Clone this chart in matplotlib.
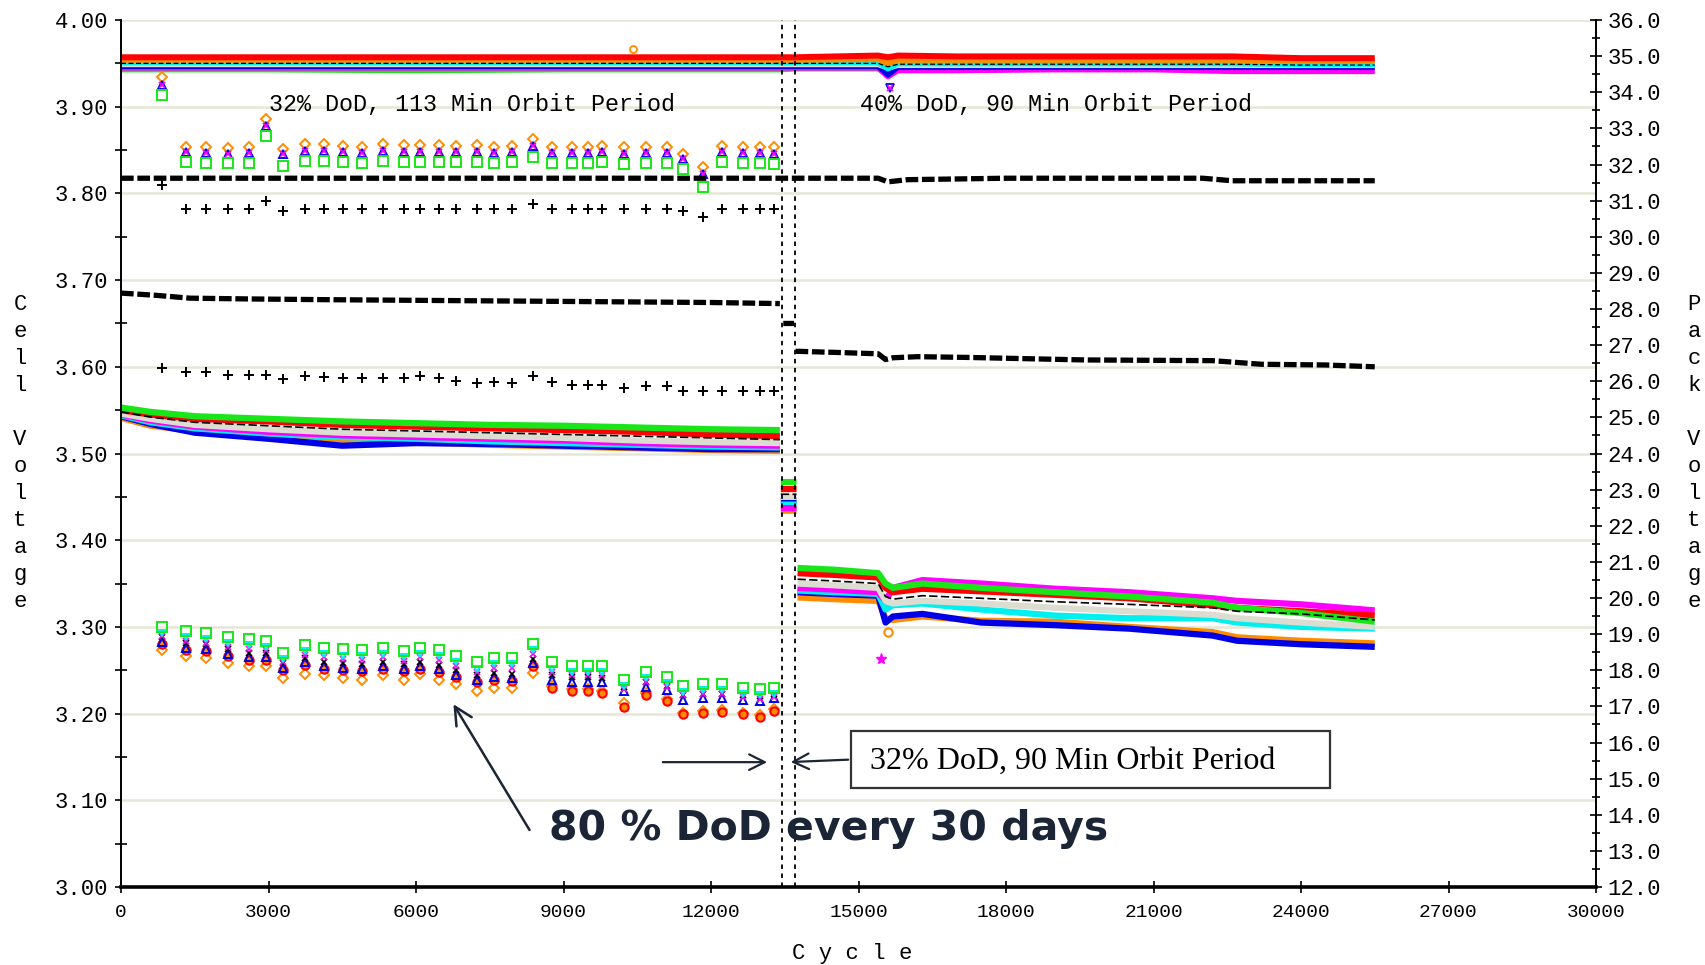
import numpy as np
import matplotlib.pyplot as plt
from matplotlib.patches import Rectangle
from matplotlib.ticker import MultipleLocator, FormatStrFormatter

plt.rcParams['font.family'] = ['Liberation Mono', 'DejaVu Sans Mono']

# cycles of the 80 % DoD check-ups (every 30 days)
dod80_cyc = [838, 1324, 1733, 2180, 2607, 2959, 3289, 3736, 4124, 4515, 4903,
             5333, 5760, 6091, 6459, 6819, 7238, 7588, 7958, 8377, 8776, 9164,
             9496, 9787, 10224, 10681, 11100, 11440, 11830, 12219, 12656, 12996, 13289]

# cell end-of-discharge voltage on the 80 % DoD cycles
eod80_green = [3.300, 3.295, 3.293, 3.288, 3.286, 3.284, 3.270, 3.279, 3.276, 3.274, 3.273,
               3.276, 3.272, 3.276, 3.273, 3.266, 3.259, 3.264, 3.264, 3.280, 3.259, 3.255,
               3.255, 3.255, 3.239, 3.248, 3.242, 3.232, 3.234, 3.234, 3.230, 3.228, 3.230]
eod80_cyan = [3.293, 3.288, 3.286, 3.281, 3.279, 3.277, 3.263, 3.272, 3.269, 3.267, 3.266,
              3.269, 3.265, 3.269, 3.266, 3.259, 3.252, 3.257, 3.257, 3.273, 3.252, 3.248,
              3.248, 3.248, 3.232, 3.241, 3.235, 3.225, 3.227, 3.227, 3.223, 3.221, 3.223]
eod80_magenta = [3.289, 3.284, 3.282, 3.277, 3.275, 3.273, 3.259, 3.268, 3.265, 3.263, 3.262,
                 3.265, 3.261, 3.265, 3.262, 3.255, 3.248, 3.253, 3.253, 3.269, 3.248, 3.244,
                 3.244, 3.244, 3.228, 3.237, 3.231, 3.221, 3.223, 3.223, 3.219, 3.217, 3.219]
eod80_black = [3.288, 3.281, 3.280, 3.274, 3.270, 3.270, 3.258, 3.264, 3.260, 3.258, 3.257,
               3.260, 3.257, 3.260, 3.256, 3.250, 3.244, 3.247, 3.246, 3.263, 3.244, 3.242,
               3.242, 3.241, 3.231, 3.236, 3.232, 3.221, 3.223, 3.223, 3.221, 3.220, 3.223]
eod80_blue = [3.283, 3.276, 3.275, 3.269, 3.265, 3.265, 3.253, 3.259, 3.255, 3.253, 3.252,
              3.255, 3.252, 3.255, 3.251, 3.245, 3.239, 3.242, 3.241, 3.258, 3.239, 3.237,
              3.237, 3.236, 3.226, 3.231, 3.227, 3.216, 3.218, 3.218, 3.216, 3.215, 3.218]
eod80_red = [3.280, 3.273, 3.272, 3.266, 3.262, 3.262, 3.250, 3.256, 3.252, 3.250, 3.249,
             3.252, 3.249, 3.252, 3.248, 3.242, 3.236, 3.239, 3.238, 3.255, 3.230, 3.226,
             3.226, 3.224, 3.208, 3.222, 3.214, 3.199, 3.201, 3.202, 3.199, 3.196, 3.203]
eod80_orange = [3.273, 3.266, 3.264, 3.258, 3.255, 3.255, 3.241, 3.246, 3.245, 3.241, 3.239,
                3.244, 3.239, 3.246, 3.239, 3.234, 3.226, 3.230, 3.230, 3.247, 3.232, 3.228,
                3.228, 3.226, 3.212, 3.224, 3.217, 3.201, 3.203, 3.204, 3.201, 3.198, 3.205]

# cell end-of-charge voltage on the 80 % DoD cycles
eoc80_green = [3.914, 3.836, 3.835, 3.835, 3.835, 3.866, 3.832, 3.837, 3.837, 3.836, 3.835,
               3.837, 3.836, 3.836, 3.836, 3.836, 3.836, 3.835, 3.836, 3.842, 3.835, 3.835,
               3.835, 3.836, 3.834, 3.835, 3.835, 3.828, 3.807, 3.836, 3.835, 3.835, 3.834]
eoc80_blue = [3.925, 3.848, 3.847, 3.846, 3.847, 3.878, 3.845, 3.849, 3.849, 3.848, 3.847,
              3.849, 3.848, 3.848, 3.848, 3.848, 3.848, 3.847, 3.848, 3.855, 3.847, 3.847,
              3.847, 3.848, 3.846, 3.847, 3.847, 3.840, 3.822, 3.848, 3.847, 3.847, 3.846]
eoc80_orange = [3.934, 3.854, 3.853, 3.852, 3.853, 3.886, 3.851, 3.857, 3.857, 3.855, 3.854,
                3.857, 3.856, 3.856, 3.856, 3.855, 3.856, 3.854, 3.855, 3.863, 3.854, 3.854,
                3.854, 3.855, 3.853, 3.854, 3.854, 3.846, 3.830, 3.855, 3.854, 3.854, 3.853]

# pack voltage (right axis) on the 80 % DoD cycles
pack_eoc80 = [31.42, 30.77, 30.77, 30.77, 30.77, 31.00, 30.72, 30.77, 30.77, 30.77, 30.77,
              30.77, 30.77, 30.77, 30.77, 30.77, 30.77, 30.77, 30.77, 30.90, 30.77, 30.77,
              30.77, 30.77, 30.77, 30.77, 30.77, 30.72, 30.55, 30.77, 30.77, 30.77, 30.77]
pack_eod80 = [26.38, 26.26, 26.26, 26.18, 26.18, 26.18, 26.06, 26.14, 26.12, 26.08, 26.08,
              26.08, 26.10, 26.14, 26.08, 26.02, 25.94, 25.98, 25.94, 26.14, 25.98, 25.90,
              25.90, 25.90, 25.80, 25.86, 25.86, 25.73, 25.73, 25.73, 25.73, 25.73, 25.73]

# daily cell end-of-charge voltage (top band)
eoc_cyc = [0, 3000, 6000, 9000, 12000, 13400, 13700, 15400, 15600, 15800, 17000,
           19000, 21000, 22600, 24000, 25500]
eoc_green = [3.943, 3.943, 3.942, 3.943, 3.943, 3.943, 3.944, 3.944, 3.938, 3.943, 3.944,
             3.944, 3.944, 3.945, 3.945, 3.945]
eoc_magenta = [3.945, 3.945, 3.945, 3.945, 3.945, 3.945, 3.945, 3.945, 3.935, 3.942, 3.942,
               3.943, 3.943, 3.941, 3.941, 3.941]
eoc_blue = [3.947, 3.947, 3.947, 3.947, 3.947, 3.947, 3.947, 3.947, 3.937, 3.946, 3.946,
            3.946, 3.946, 3.946, 3.946, 3.946]
eoc_gray = [3.949, 3.949, 3.949, 3.949, 3.949, 3.949, 3.949, 3.949, 3.945, 3.948, 3.948,
            3.948, 3.948, 3.948, 3.948, 3.948]
eoc_cyan = [3.951, 3.951, 3.951, 3.951, 3.951, 3.951, 3.951, 3.951, 3.944, 3.950, 3.950,
            3.950, 3.950, 3.950, 3.949, 3.949]
eoc_orange = [3.954, 3.954, 3.954, 3.954, 3.954, 3.954, 3.954, 3.955, 3.950, 3.954, 3.954,
              3.954, 3.954, 3.954, 3.953, 3.953]
eoc_red = [3.957, 3.957, 3.957, 3.957, 3.957, 3.957, 3.957, 3.959, 3.957, 3.959, 3.958,
           3.958, 3.958, 3.958, 3.956, 3.956]
eoc_black = [3.950, 3.950, 3.950, 3.950, 3.950, 3.950, 3.950, 3.950, 3.946, 3.949, 3.949,
             3.949, 3.949, 3.949, 3.948, 3.948]
eoc_spike_cyc = [10410]
eoc_spike_v = [3.966]
eoc_dip_cyc = [15650]
eoc_dip_v = [3.922]

# daily pack end-of-charge voltage (right axis)
pack_eoc_cyc = [0, 4000, 8000, 12000, 13400, 13700, 15400, 15600, 16000, 18000, 22000,
                22600, 25500]
pack_eoc = [31.62, 31.62, 31.62, 31.62, 31.62, 31.62, 31.62, 31.52, 31.58, 31.62, 31.62,
            31.55, 31.55]

# daily pack end-of-discharge voltage (right axis), NaN marks the profile changes
pack_eod_cyc = [0, 700, 1400, 2500, 4000, 6000, 8000, 10000, 12000, 13400, 13430,
                13470, 13690, 13700,
                13720, 14500, 15400, 15550, 15700, 16200, 17200, 19600, 22200, 23200,
                24500, 25500]
pack_eod = [28.44, 28.38, 28.30, 28.28, 28.26, 28.24, 28.22, 28.20, 28.18, 28.15, np.nan,
            27.60, 27.60, np.nan,
            26.83, 26.80, 26.76, 26.60, 26.65, 26.68, 26.66, 26.59, 26.57, 26.47,
            26.45, 26.40]

# daily cell end-of-discharge voltage (lower bands)
eod_cyc = [0, 600, 1500, 3000, 4500, 6000, 7500, 9000, 10500, 12000, 13400, 13410,
           13420, 13740, 13745,
           13760, 14500, 15400, 15550, 15700, 16300, 17500, 19000, 20500, 22200, 22700,
           24000, 25500]
eod_green = [3.553, 3.548, 3.543, 3.540, 3.537, 3.535, 3.533, 3.532, 3.530, 3.528, 3.527, np.nan,
             3.467, 3.467, np.nan,
             3.368, 3.366, 3.362, 3.350, 3.345, 3.350, 3.345, 3.340, 3.335, 3.328, 3.322,
             3.316, 3.306]
eod_red = [3.550, 3.545, 3.540, 3.537, 3.533, 3.531, 3.529, 3.527, 3.525, 3.522, 3.520, np.nan,
           3.459, 3.459, np.nan,
           3.362, 3.360, 3.357, 3.345, 3.340, 3.344, 3.341, 3.337, 3.333, 3.325, 3.322,
           3.318, 3.313]
eod_black = [3.548, 3.542, 3.536, 3.532, 3.528, 3.526, 3.524, 3.522, 3.520, 3.518, 3.516, np.nan,
             3.453, 3.453, np.nan,
             3.355, 3.353, 3.350, 3.335, 3.332, 3.336, 3.333, 3.329, 3.326, 3.322, 3.318,
             3.315, 3.308]
eod_gray = [3.546, 3.540, 3.533, 3.528, 3.524, 3.522, 3.520, 3.518, 3.515, 3.513, 3.512, np.nan,
            3.450, 3.450, np.nan,
            3.350, 3.348, 3.345, 3.330, 3.327, 3.330, 3.327, 3.322, 3.318, 3.314, 3.310,
            3.305, 3.300]
eod_magenta = [3.545, 3.538, 3.531, 3.525, 3.521, 3.519, 3.517, 3.515, 3.512, 3.510, 3.509, np.nan,
               3.437, 3.437, np.nan,
               3.345, 3.343, 3.340, 3.330, 3.345, 3.354, 3.350, 3.344, 3.340, 3.333, 3.330,
               3.326, 3.319]
eod_cyan = [3.544, 3.536, 3.529, 3.523, 3.519, 3.517, 3.514, 3.512, 3.510, 3.508, 3.507, np.nan,
            3.441, 3.441, np.nan,
            3.342, 3.340, 3.338, 3.320, 3.325, 3.327, 3.320, 3.313, 3.310, 3.310, 3.305,
            3.300, 3.298]
eod_blue = [3.543, 3.534, 3.524, 3.517, 3.509, 3.512, 3.511, 3.509, 3.507, 3.505, 3.505, np.nan,
            3.446, 3.446, np.nan,
            3.340, 3.338, 3.336, 3.305, 3.312, 3.315, 3.305, 3.302, 3.298, 3.290, 3.284,
            3.280, 3.277]
eod_orange = [3.541, 3.532, 3.526, 3.520, 3.516, 3.513, 3.510, 3.508, 3.506, 3.504, 3.503, np.nan,
              3.434, 3.434, np.nan,
              3.334, 3.332, 3.330, 3.310, 3.308, 3.312, 3.307, 3.306, 3.300, 3.294, 3.288,
              3.284, 3.281]
eod_outlier_cyc = [15600, 15460]
eod_outlier_v = [3.294, 3.263]

# profile change cycles (dashed lines)
change_cyc = [13450, 13715]

RED, GREEN, BLUE = '#ff0000', '#19e619', '#0000e6'
MAGENTA, CYAN, ORANGE = '#ff00ff', '#00f0f0', '#ff8c00'
GRAY, INK = '#dcdcd0', '#1b2535'

fig = plt.figure(figsize=(17.06, 9.65), dpi=100)
ax = fig.add_axes([121 / 1706, 1 - 887 / 965, 1475 / 1706, 867 / 965])
ax2 = ax.twinx()

# top band, drawn bottom layer first
for vals, col in [(eoc_green, GREEN), (eoc_magenta, MAGENTA), (eoc_blue, BLUE),
                  (eoc_gray, GRAY), (eoc_cyan, CYAN), (eoc_orange, ORANGE),
                  (eoc_red, RED)]:
    ax.plot(eoc_cyc, vals, color=col, lw=4.3, solid_capstyle='butt')
ax.plot(eoc_cyc, eoc_black, color='k', lw=0.9, ls=(0, (4, 2)))
ax.plot(eoc_spike_cyc, eoc_spike_v, ls='none', marker='o', ms=5, mfc='none',
        mec=ORANGE, mew=1.3)
ax.plot(eoc_dip_cyc, eoc_dip_v, ls='none', marker='v', ms=6, mfc='none',
        mec=BLUE, mew=1.3)
ax.plot(eoc_dip_cyc, eoc_dip_v, ls='none', marker='x', ms=4, mec=MAGENTA, mew=1.2)

# lower bands
for vals, col in [(eod_orange, ORANGE), (eod_blue, BLUE), (eod_cyan, CYAN),
                  (eod_magenta, MAGENTA), (eod_gray, GRAY), (eod_red, RED),
                  (eod_green, GREEN)]:
    ax.plot(eod_cyc, vals, color=col, lw=4.5, solid_capstyle='butt')
ax.plot(eod_cyc, eod_black, color='k', lw=1.2, ls=(0, (5, 2)))
ax.plot(eod_outlier_cyc[:1], eod_outlier_v[:1], ls='none', marker='o', ms=6, mfc='none',
        mec=ORANGE, mew=1.5)
ax.plot(eod_outlier_cyc[1:], eod_outlier_v[1:], ls='none', marker='*', ms=8,
        color=MAGENTA)

# 80 % DoD check-up markers
mk = dict(ls='none', mfc='none', mew=1.4)
ax.plot(dod80_cyc, eod80_orange, marker='D', ms=5, mec=ORANGE, **mk)
ax.plot(dod80_cyc, eod80_red, marker='o', ms=6, mec=RED, mfc=ORANGE, ls='none', mew=1.5)
ax.plot(dod80_cyc, eod80_blue, marker='^', ms=6, mec=BLUE, **mk)
ax.plot(dod80_cyc, eod80_black, marker='x', ms=4, mec='k', ls='none', mew=1.2)
ax.plot(dod80_cyc, eod80_magenta, marker='x', ms=4, mec=MAGENTA, ls='none', mew=1.2)
ax.plot(dod80_cyc, eod80_cyan, marker='v', ms=4, mec=CYAN, **mk)
ax.plot(dod80_cyc, eod80_green, marker='s', ms=6.5, mec=GREEN, **mk)

ax.plot(dod80_cyc, eoc80_orange, marker='D', ms=5, mec=ORANGE, **mk)
ax.plot(dod80_cyc, eoc80_blue, marker='^', ms=6, mec=BLUE, **mk)
ax.plot(dod80_cyc, eoc80_blue, marker='x', ms=4, mec=MAGENTA, ls='none', mew=1.2)
ax.plot(dod80_cyc, eoc80_green, marker='s', ms=6.5, mec=GREEN, **mk)

# pack voltages on the right axis
dash = dict(color='k', lw=3.8, ls=(0, (2.4, 0.7)))
ax2.plot(pack_eoc_cyc, pack_eoc, **dash)
ax2.plot(pack_eod_cyc, pack_eod, **dash)
ax2.plot(dod80_cyc, pack_eoc80, ls='none', marker='+', ms=7, mew=1.4, color='k')
ax2.plot(dod80_cyc, pack_eod80, ls='none', marker='+', ms=7, mew=1.4, color='k')

for c in change_cyc:
    ax.axvline(c, color='k', lw=1.3, ls=(0, (2.5, 2.5)))

# axes styling
ax.set_xlim(0, 30000)
ax.set_ylim(3.0, 4.0)
ax2.set_ylim(12.0, 36.0)
ax.xaxis.set_major_locator(MultipleLocator(3000))
ax.yaxis.set_major_locator(MultipleLocator(0.1))
ax.yaxis.set_minor_locator(MultipleLocator(0.05))
ax.yaxis.set_major_formatter(FormatStrFormatter('%.2f'))
ax2.yaxis.set_major_locator(MultipleLocator(1.0))
ax2.yaxis.set_minor_locator(MultipleLocator(0.5))
ax2.yaxis.set_major_formatter(FormatStrFormatter('%.1f'))
ax.yaxis.grid(True, color='#e6e6d8', lw=1.8)
ax.set_axisbelow(True)

for a in (ax, ax2):
    a.spines['top'].set_visible(False)
ax.spines['right'].set_visible(False)
ax2.spines['left'].set_visible(False)
ax2.spines['bottom'].set_visible(False)
ax.spines['bottom'].set_linewidth(2.6)
ax.spines['left'].set_linewidth(1.4)
ax2.spines['right'].set_linewidth(1.4)

ax.tick_params(axis='x', direction='inout', length=9, width=1.2, pad=8, labelsize=14)
ax.tick_params(axis='y', which='major', direction='out', length=4, width=1.2, pad=5,
               labelsize=16)
ax.tick_params(axis='y', which='minor', direction='inout', length=8, width=1.2)
ax2.tick_params(axis='y', which='major', direction='inout', length=9, width=1.2, pad=4,
                labelsize=16)
ax2.tick_params(axis='y', which='minor', direction='inout', length=6, width=1.2)

# annotations
ax.text(3010, 3.902, '32% DoD, 113 Min Orbit Period', fontsize=16.8, va='center')
ax.text(15030, 3.902, '40% DoD, 90 Min Orbit Period', fontsize=16.8, va='center')

ax.add_patch(Rectangle((14847, 3.114), 9741, 0.066, fc='white', ec='#333333', lw=1.6,
                       zorder=5))
ax.text(15233, 3.145, '32% DoD, 90 Min Orbit Period', family='Liberation Serif',
        fontsize=23, va='center', zorder=6)
ax.annotate('', xy=(13199, 3.144), xytext=(10963, 3.144),
            arrowprops=dict(arrowstyle='->', color=INK, lw=1.6, mutation_scale=28))
ax.annotate('', xy=(13565, 3.144), xytext=(14847, 3.147),
            arrowprops=dict(arrowstyle='->', color=INK, lw=1.6, mutation_scale=28))

ax.text(8705, 3.067, '80 % DoD every 30 days', family='DejaVu Sans', weight='bold',
        fontsize=29.5, color=INK, va='center')
ax.annotate('', xy=(6732, 3.2136), xytext=(8338, 3.063),
            arrowprops=dict(arrowstyle='->', color=INK, lw=1.8, mutation_scale=32))

# stacked axis titles
fig.text(20 / 1706, 0.5306, '\n'.join('Cell Voltage'), fontsize=16, ha='center',
         va='center', linespacing=1.38)
fig.text(1694 / 1706, 0.5306, '\n'.join('Pack Voltage'), fontsize=16, ha='center',
         va='center', linespacing=1.38)
fig.text(852 / 1706, 1 - 953 / 965, 'C y c l e', fontsize=16, ha='center', va='center')

fig.savefig('out.png', dpi=100)
